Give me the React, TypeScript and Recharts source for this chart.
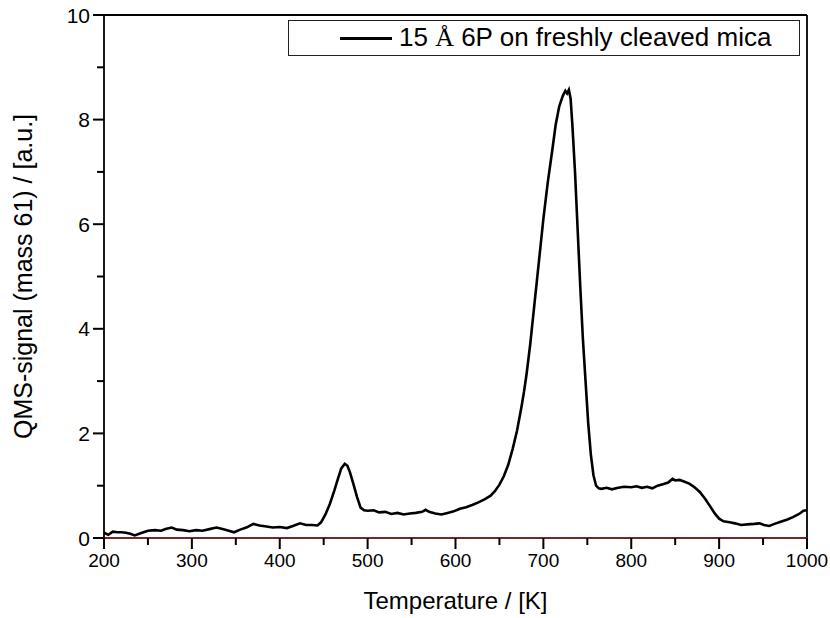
import React from 'react';
import { LineChart, Line, XAxis, YAxis, ReferenceLine, Legend } from 'recharts';

const FONT = '"Liberation Sans", Arial, Helvetica, sans-serif';

const seriesName = '15 Å 6P on freshly cleaved mica';
const xTitle = 'Temperature / [K]';
const yTitle = 'QMS-signal (mass 61) / [a.u.]';

const temperatures = [
  200, 205, 210, 215, 220, 225, 230, 235, 240, 245, 250, 258, 265, 270, 277, 283, 290, 297,
  305, 312, 320, 328, 335, 342, 348, 355, 362, 370, 377, 385, 392, 400, 408, 415, 423, 430,
  437, 443, 447, 452, 457, 462, 466, 470, 474, 477, 480, 484, 488, 492, 496, 500, 507, 513,
  520, 527, 534, 541, 548, 555, 562, 566, 570, 577, 584, 591, 598, 605, 612, 619, 626, 633,
  640, 645, 650, 655, 660, 665, 670, 675, 678, 681, 685, 690, 695, 700, 705, 710, 714, 718, 722,
  725, 727, 729, 731, 733, 736, 739, 742, 745, 748, 751, 754, 757, 760, 763, 766, 772, 778,
  785, 792, 800, 806, 812, 818, 824, 830, 836, 842, 847, 850, 855, 860, 866, 872, 878, 884,
  890, 895, 900, 905, 912, 918, 925, 932, 940, 946, 951, 957, 963, 970, 977, 984, 991, 996, 1000,
];

const signal = [
  0.10, 0.06, 0.12, 0.11, 0.11, 0.10, 0.08, 0.05, 0.08, 0.11, 0.14, 0.15, 0.14, 0.17, 0.20, 0.16, 0.15, 0.13,
  0.15, 0.14, 0.17, 0.20, 0.17, 0.14, 0.11, 0.16, 0.20, 0.27, 0.24, 0.22, 0.20, 0.21, 0.19, 0.23, 0.28, 0.25,
  0.25, 0.24, 0.30, 0.45, 0.65, 0.90, 1.12, 1.33, 1.42, 1.38, 1.25, 1.02, 0.78, 0.58, 0.53, 0.52, 0.53, 0.49,
  0.50, 0.46, 0.48, 0.45, 0.47, 0.48, 0.50, 0.54, 0.50, 0.47, 0.45, 0.48, 0.51, 0.56, 0.59, 0.63, 0.68, 0.74,
  0.81, 0.90, 1.02, 1.18, 1.40, 1.70, 2.05, 2.50, 2.80, 3.15, 3.70, 4.50, 5.30, 6.10, 6.80, 7.40, 7.90, 8.25, 8.45,
  8.55, 8.50, 8.57, 8.40, 7.90, 7.00, 5.90, 4.80, 3.80, 3.00, 2.20, 1.60, 1.20, 1.00, 0.95, 0.94, 0.96, 0.93,
  0.96, 0.98, 0.97, 0.99, 0.96, 0.98, 0.95, 1.00, 1.03, 1.06, 1.13, 1.10, 1.11, 1.08, 1.04, 0.97, 0.88, 0.75,
  0.60, 0.47, 0.37, 0.32, 0.30, 0.28, 0.25, 0.26, 0.27, 0.28, 0.25, 0.23, 0.27, 0.31, 0.35, 0.40, 0.46, 0.52, 0.53,
];

const xTicks = [200, 250, 300, 350, 400, 450, 500, 550, 600, 650, 700, 750, 800, 850, 900, 950, 1000];
const yTicks = [0, 1, 2, 3, 4, 5, 6, 7, 8, 9, 10];

const data = temperatures.map((t, i) => ({ t, s: signal[i] }));

const TS = 8;
const TM = 4;

const XTick = (props: any) => {
  const { x, y, payload } = props;
  const axisY = y - TS - TM;
  const major = payload.value % 100 === 0;
  return (
    <g>
      <rect x={x - 1} y={axisY} width={2} height={major ? 11 : 7} fill="#000" />
      {major && (
        <text x={x} y={axisY + 22} textAnchor="middle" dominantBaseline="central" fontSize={19} fontFamily={FONT} fill="#000">
          {payload.value}
        </text>
      )}
    </g>
  );
};

const YTick = (props: any) => {
  const { x, y, payload } = props;
  const axisX = x + TS + TM;
  const major = payload.value % 2 === 0;
  const len = major ? 11 : 7;
  return (
    <g>
      <rect x={axisX - len} y={y - 1} width={len} height={2} fill="#000" />
      {major && (
        <text x={axisX - 14} y={y} textAnchor="end" dominantBaseline="central" fontSize={21} fontFamily={FONT} fill="#000">
          {payload.value}
        </text>
      )}
    </g>
  );
};

const XTitle = (props: any) => {
  const vb = props.viewBox || { x: 104, y: 538, width: 703, height: 80 };
  return (
    <text x={vb.x + vb.width / 2} y={vb.y + 62} textAnchor="middle" dominantBaseline="central" fontSize={24} fontFamily={FONT} fill="#000">
      {xTitle}
    </text>
  );
};

const YTitle = (props: any) => {
  const vb = props.viewBox || { x: 0, y: 15, width: 104, height: 523 };
  const cx = vb.x + 23;
  const cy = vb.y + vb.height / 2;
  return (
    <text x={cx} y={cy} transform={`rotate(-90, ${cx}, ${cy})`} textAnchor="middle" dominantBaseline="central" fontSize={25} fontFamily={FONT} fill="#000">
      {yTitle}
    </text>
  );
};

const LegendBox = () => (
  <div
    style={{
      position: 'relative',
      boxSizing: 'border-box',
      width: 512,
      height: 36,
      border: '1.5px solid #222',
      background: '#fff',
      fontFamily: FONT,
      fontSize: 26,
      color: '#000',
    }}
  >
    <div style={{ position: 'absolute', left: 51, top: 16, width: 52, height: 2.5, background: '#000' }} />
    <div style={{ position: 'absolute', left: 110, top: 0, height: 33, lineHeight: '33px', whiteSpace: 'nowrap' }}>
      {seriesName.split('Å')[0]}
      <span style={{ fontFamily: '"Liberation Serif", "Times New Roman", serif' }}>Å</span>
      {seriesName.split('Å')[1]}
    </div>
  </div>
);

export default function App() {
  return (
    <div style={{ position: 'absolute', left: 0, top: 0, width: 830, height: 618, background: '#fff' }}>
      <LineChart width={830} height={618} data={data} margin={{ top: 15, right: 23, bottom: 0, left: 0 }}>
        <XAxis
          dataKey="t"
          type="number"
          domain={[200, 1000]}
          ticks={xTicks}
          interval={0}
          allowDataOverflow
          height={80}
          tickSize={TS}
          tickMargin={TM}
          tickLine={false}
          axisLine={{ stroke: '#6e2a2a', strokeWidth: 2 }}
          tick={<XTick />}
          label={<XTitle />}
        />
        <YAxis
          type="number"
          domain={[0, 10]}
          ticks={yTicks}
          interval={0}
          allowDataOverflow
          width={104}
          tickSize={TS}
          tickMargin={TM}
          tickLine={false}
          axisLine={{ stroke: '#000', strokeWidth: 1.8 }}
          tick={<YTick />}
          label={<YTitle />}
        />
        <ReferenceLine y={10} stroke="#000" strokeWidth={1.8} />
        <ReferenceLine x={1000} stroke="#000" strokeWidth={1.8} />
        <ReferenceLine y={0} stroke="#6e2a2a" strokeWidth={2} />
        <Legend
          layout="horizontal"
          verticalAlign="middle"
          align="center"
          wrapperStyle={{ left: 288, top: 20, width: 512, height: 36 }}
          content={() => <LegendBox />}
        />
        <Line
          type="linear"
          dataKey="s"
          name={seriesName}
          stroke="#000"
          strokeWidth={2.6}
          dot={false}
          activeDot={false}
          isAnimationActive={false}
        />
      </LineChart>
    </div>
  );
}
